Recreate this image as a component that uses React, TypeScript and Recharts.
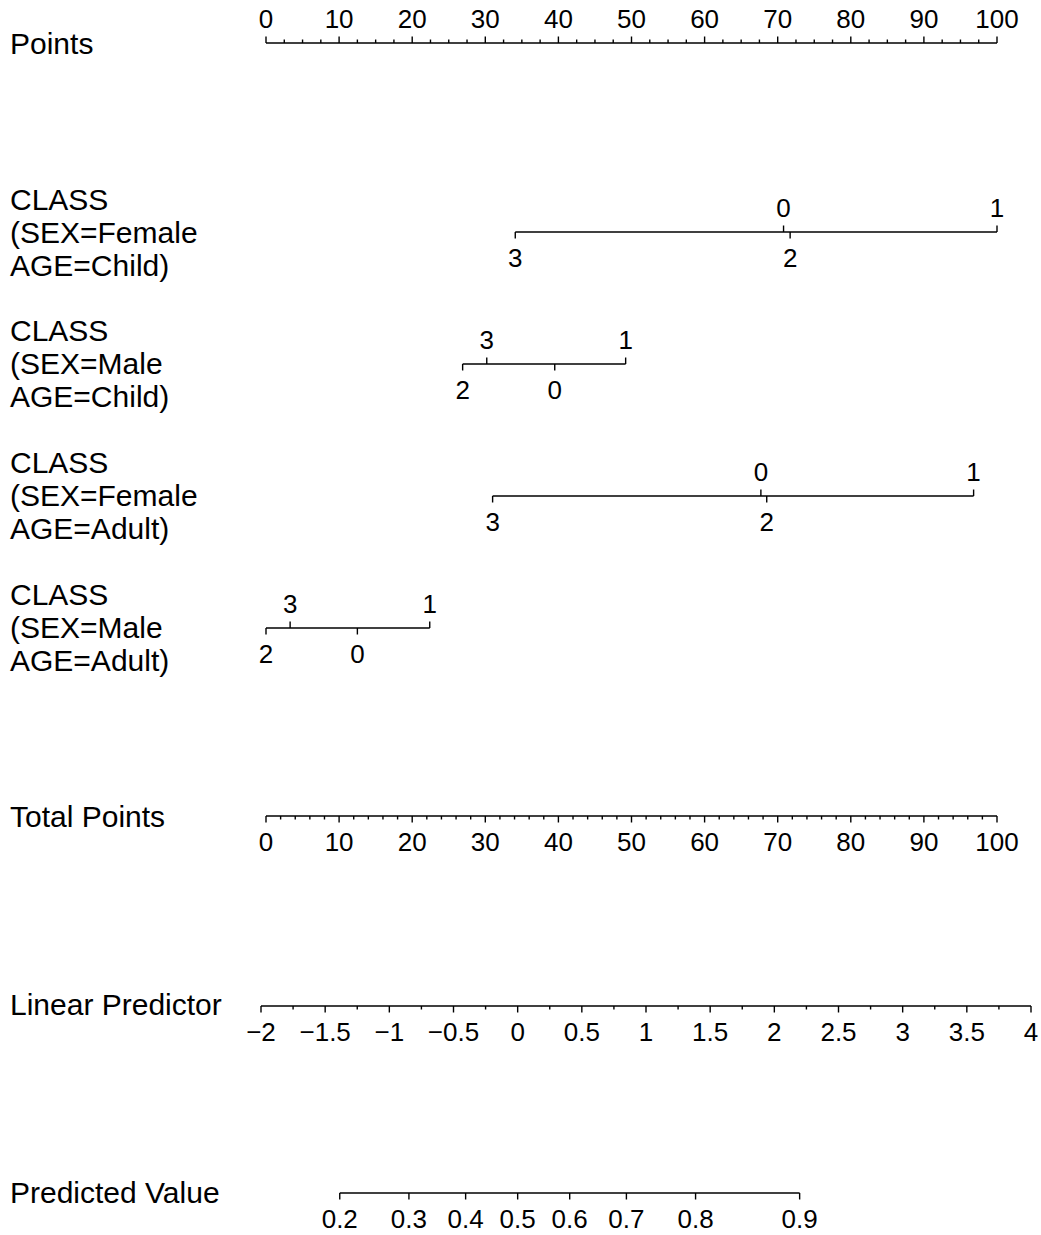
import React from "react";
import { LineChart, Line, XAxis, YAxis } from "recharts";

// ---------------- data ----------------
const pointsMajor = [0, 10, 20, 30, 40, 50, 60, 70, 80, 90, 100];
const pointsMinor = [
  2.5, 5, 7.5, 12.5, 15, 17.5, 22.5, 25, 27.5, 32.5, 35, 37.5, 42.5, 45, 47.5,
  52.5, 55, 57.5, 62.5, 65, 67.5, 72.5, 75, 77.5, 82.5, 85, 87.5, 92.5, 95, 97.5,
];

const classLevels = ["0", "1", "2", "3"];
const femaleChildPts = [70.8, 100, 71.7, 34.1];
const maleChildPts = [39.5, 49.2, 26.9, 30.2];
const femaleAdultPts = [67.7, 96.8, 68.5, 31.0];
const maleAdultPts = [12.5, 22.4, 0, 3.3];

const totalMajor = [0, 10, 20, 30, 40, 50, 60, 70, 80, 90, 100];
const totalMinor = [
  2, 4, 6, 8, 12, 14, 16, 18, 22, 24, 26, 28, 32, 34, 36, 38, 42, 44, 46, 48,
  52, 54, 56, 58, 62, 64, 66, 68, 72, 74, 76, 78, 82, 84, 86, 88, 92, 94, 96, 98,
];

const lpMajor = [-2, -1.5, -1, -0.5, 0, 0.5, 1, 1.5, 2, 2.5, 3, 3.5, 4];
const lpMinor = [
  -1.75, -1.25, -0.75, -0.25, 0.25, 0.75, 1.25, 1.75, 2.25, 2.75, 3.25, 3.75,
];

const predictedValues = [0.2, 0.3, 0.4, 0.5, 0.6, 0.7, 0.8, 0.9];

const rowLabels = [
  "Points",
  "CLASS\n(SEX=Female\nAGE=Child)",
  "CLASS\n(SEX=Male\nAGE=Child)",
  "CLASS\n(SEX=Female\nAGE=Adult)",
  "CLASS\n(SEX=Male\nAGE=Adult)",
  "Total Points",
  "Linear Predictor",
  "Predicted Value",
];

// ---------------- styling ----------------
const FONT = '"Liberation Sans", Arial, Helvetica, sans-serif';
const W = 1041;
const ROW_H = 90;
const INK = "#000";
const TICK_FONT = 26;
const LABEL_FONT = 30;

type Tick = { v: number; y: number; label: string; major: boolean; side: number };

const fmtNum = (n: number) => (n < 0 ? "\u2212" + String(-n) : String(n));

function scaleTicks(major: number[], minor: number[], side: number): Tick[] {
  const arr: Tick[] = [
    ...major.map((v) => ({ v, y: 0, label: fmtNum(v), major: true, side })),
    ...minor.map((v) => ({ v, y: 0, label: "", major: false, side })),
  ];
  return arr.sort((a, b) => a.v - b.v);
}

function classTicks(values: number[]): Tick[] {
  const arr = values.map((v, i) => ({ v, y: 0, label: classLevels[i], major: true, side: 1 }));
  arr.sort((a, b) => a.v - b.v);
  // labels alternate below / above along the axis
  return arr.map((t, i) => ({ ...t, side: i % 2 === 0 ? 1 : -1 }));
}

function predictedTicks(): Tick[] {
  return predictedValues.map((p) => ({
    v: Math.log(p / (1 - p)),
    y: 0,
    label: String(p),
    major: true,
    side: 1,
  }));
}

const renderTick = (props: any) => {
  const { cx, cy, payload, index } = props;
  if (cx == null || cy == null) return <g key={`t${index}`} />;
  const s = payload.side;
  const len = payload.major ? 6.5 : 3.5;
  return (
    <g key={`t${index}`}>
      <line x1={cx} x2={cx} y1={cy} y2={cy + s * len} stroke={INK} strokeWidth={1.4} />
      {payload.label ? (
        <text
          x={cx}
          y={cy + (s < 0 ? -24 : 26)}
          textAnchor="middle"
          dominantBaseline="central"
          fontSize={TICK_FONT}
          fontFamily={FONT}
          fill={INK}
        >
          {payload.label}
        </text>
      ) : null}
    </g>
  );
};

function AxisRow({
  data,
  domain,
  left,
  right,
  lineY,
}: {
  data: Tick[];
  domain: [number, number];
  left: number;
  right: number;
  lineY: number;
}) {
  return (
    <div style={{ position: "absolute", left: 0, top: lineY - ROW_H / 2, width: W, height: ROW_H }}>
      <LineChart width={W} height={ROW_H} data={data} margin={{ top: 0, bottom: 0, left, right }}>
        <XAxis dataKey="v" type="number" domain={domain} hide />
        <YAxis type="number" domain={[-1, 1]} hide />
        <Line
          dataKey="y"
          stroke={INK}
          strokeWidth={1.6}
          dot={renderTick}
          activeDot={false}
          isAnimationActive={false}
        />
      </LineChart>
    </div>
  );
}

function RowLabel({ text, centerY, lines }: { text: string; centerY: number; lines: number }) {
  const lh = 33;
  const top = centerY - (lines * lh) / 2;
  return (
    <div
      style={{
        position: "absolute",
        left: 10,
        top,
        fontFamily: FONT,
        fontSize: LABEL_FONT,
        lineHeight: `${lh}px`,
        whiteSpace: "pre",
        color: INK,
      }}
    >
      {text}
    </div>
  );
}

const PTS_LEFT = 266;
const PTS_RIGHT = W - 997;
const LP_LEFT = 261;
const LP_RIGHT = W - 1031;

export default function App() {
  const rowsY = [43, 232, 364, 496, 628, 816, 1006, 1193];
  const labelY = [43, 232, 363, 495, 627, 816, 1004, 1192];
  return (
    <div style={{ position: "absolute", left: 0, top: 0, width: W, height: 1235, background: "#fff", overflow: "hidden" }}>
      {rowLabels.map((t, i) => (
        <RowLabel key={i} text={t} centerY={labelY[i]} lines={t.split("\n").length} />
      ))}
      <AxisRow data={scaleTicks(pointsMajor, pointsMinor, -1)} domain={[0, 100]} left={PTS_LEFT} right={PTS_RIGHT} lineY={rowsY[0]} />
      <AxisRow data={classTicks(femaleChildPts)} domain={[0, 100]} left={PTS_LEFT} right={PTS_RIGHT} lineY={rowsY[1]} />
      <AxisRow data={classTicks(maleChildPts)} domain={[0, 100]} left={PTS_LEFT} right={PTS_RIGHT} lineY={rowsY[2]} />
      <AxisRow data={classTicks(femaleAdultPts)} domain={[0, 100]} left={PTS_LEFT} right={PTS_RIGHT} lineY={rowsY[3]} />
      <AxisRow data={classTicks(maleAdultPts)} domain={[0, 100]} left={PTS_LEFT} right={PTS_RIGHT} lineY={rowsY[4]} />
      <AxisRow data={scaleTicks(totalMajor, totalMinor, 1)} domain={[0, 100]} left={PTS_LEFT} right={PTS_RIGHT} lineY={rowsY[5]} />
      <AxisRow data={scaleTicks(lpMajor, lpMinor, 1)} domain={[-2, 4]} left={LP_LEFT} right={LP_RIGHT} lineY={rowsY[6]} />
      <AxisRow data={predictedTicks()} domain={[-2, 4]} left={LP_LEFT} right={LP_RIGHT} lineY={rowsY[7]} />
    </div>
  );
}
